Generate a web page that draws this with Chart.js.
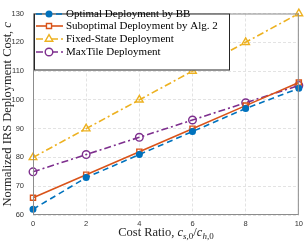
<!DOCTYPE html>
<html>
<head>
<meta charset="utf-8">
<script src="https://cdn.jsdelivr.net/npm/chart.js@4/dist/chart.umd.min.js"></script>
<style>
  html, body { margin: 0; padding: 0; background: #fff; }
  #wrap { width: 307px; height: 245px; position: relative; }
</style>
</head>
<body>
<div id="wrap"><canvas id="chart"></canvas></div>
<script>
const costRatio = [0, 2, 4, 6, 8, 10];
const optimalBB = [62, 73, 81, 89, 97, 104];
const suboptimalAlg2 = [66, 74, 82, 90, 98, 106];
const fixedState = [80, 90, 100, 110, 120, 130];
const maxTile = [75, 81, 87, 93, 99, 105];
const seriesNames = [
    'Optimal Deployment by BB',
    'Suboptimal Deployment by Alg. 2',
    'Fixed-State Deployment',
    'MaxTile Deployment',
];
const yTicks = [60, 70, 80, 90, 100, 110, 120, 130];
const xTicks = [0, 2, 4, 6, 8, 10];

const serif = '"Liberation Serif", "Times New Roman", serif';
const toPoints = (ys) => costRatio.map((x, i) => ({ x, y: ys[i] }));

const styles = [
    { color: '#0072BD', dash: [6, 4], point: 'circle', radius: 2.8, fill: '#0072BD' },
    { color: '#D95319', dash: [], point: 'rect', radius: 3.6, fill: 'rgba(0,0,0,0)' },
    { color: '#EDB120', dash: [7, 3, 2, 3], point: 'triangle', radius: 4.4, fill: 'rgba(0,0,0,0)' },
    { color: '#7E2F8E', dash: [7, 3, 2, 3], point: 'circle', radius: 3.8, fill: 'rgba(0,0,0,0)' },
];

const datasets = [optimalBB, suboptimalAlg2, fixedState, maxTile].map((ys, i) => ({
    label: seriesNames[i],
    data: toPoints(ys),
    borderColor: styles[i].color,
    borderWidth: 1.6,
    borderDash: styles[i].dash,
    pointStyle: styles[i].point,
    pointRadius: styles[i].radius,
    pointBorderWidth: 1.4,
    pointBorderColor: styles[i].color,
    pointBackgroundColor: styles[i].fill,
    tension: 0,
    clip: false,
}));

function drawMarker(ctx, style, x, y) {
    ctx.save();
    ctx.setLineDash([]);
    ctx.lineWidth = 1.4;
    ctx.strokeStyle = style.color;
    ctx.fillStyle = style.point === 'circle' && style.fill !== 'rgba(0,0,0,0)' ? style.fill : '#fff';
    const r = style.radius;
    ctx.beginPath();
    if (style.point === 'circle') {
        ctx.arc(x, y, r, 0, Math.PI * 2);
    } else if (style.point === 'rect') {
        const s = r * Math.SQRT1_2;
        ctx.rect(x - s, y - s, s * 2, s * 2);
    } else {
        ctx.moveTo(x, y - r);
        ctx.lineTo(x + r * 0.866, y + r * 0.5);
        ctx.lineTo(x - r * 0.866, y + r * 0.5);
        ctx.closePath();
    }
    ctx.fill();
    ctx.stroke();
    ctx.restore();
}

// draws text pieces one after another: [text, italic, sub]
function drawRich(ctx, parts, x, y, size) {
    let cx = x;
    parts.forEach(([text, italic, sub]) => {
        const fs = sub ? size * 0.72 : size;
        ctx.font = (italic ? 'italic ' : '') + fs + 'px ' + serif;
        ctx.fillText(text, cx, sub ? y + size * 0.25 : y);
        cx += ctx.measureText(text).width;
    });
    return cx - x;
}
function richWidth(ctx, parts, size) {
    let w = 0;
    parts.forEach(([text, italic, sub]) => {
        const fs = sub ? size * 0.72 : size;
        ctx.font = (italic ? 'italic ' : '') + fs + 'px ' + serif;
        w += ctx.measureText(text).width;
    });
    return w;
}

const boxAndLegend = {
    id: 'boxAndLegend',
    afterDraw(chart) {
        const { ctx, chartArea: a } = chart;
        ctx.save();
        // axes box
        ctx.strokeStyle = '#8c8c8c';
        ctx.lineWidth = 1;
        ctx.setLineDash([]);
        ctx.strokeRect(a.left + 0.5, a.top + 0.5, a.right - a.left - 1, a.bottom - a.top - 1);

        // legend
        const lx = a.left + 1, ly = a.top, lw = 196, lh = 57;
        ctx.fillStyle = '#fff';
        ctx.fillRect(lx, ly, lw, lh);
        ctx.strokeStyle = '#262626';
        ctx.strokeRect(lx + 0.5, ly + 0.5, lw - 1, lh - 1);
        const rows = [14, 26, 39, 52];
        styles.forEach((s, i) => {
            const y = rows[i];
            ctx.strokeStyle = s.color;
            ctx.lineWidth = 1.6;
            ctx.setLineDash(s.dash);
            ctx.beginPath();
            ctx.moveTo(lx + 2, y);
            ctx.lineTo(lx + 29, y);
            ctx.stroke();
            drawMarker(ctx, s, lx + 15, y);
            ctx.fillStyle = '#000';
            ctx.font = '11px ' + serif;
            ctx.textBaseline = 'middle';
            ctx.textAlign = 'left';
            ctx.fillText(seriesNames[i], lx + 32, y + 0.5);
        });

        // axis titles
        ctx.fillStyle = '#262626';
        ctx.textBaseline = 'alphabetic';
        const xParts = [['Cost Ratio, ', false, false], ['c', true, false], ['s', true, true], [',0', false, true],
            ['/', false, false], ['c', true, false], ['h', true, true], [',0', false, true]];
        const xw = richWidth(ctx, xParts, 12.5);
        drawRich(ctx, xParts, (a.left + a.right) / 2 - xw / 2, 236, 12.5);

        const yParts = [['Normalized IRS Deployment Cost, ', false, false], ['c', true, false]];
        const yw = richWidth(ctx, yParts, 12.5);
        ctx.translate(11, (a.top + a.bottom) / 2);
        ctx.rotate(-Math.PI / 2);
        drawRich(ctx, yParts, -yw / 2, 0, 12.5);
        ctx.restore();
    },
};

new Chart(document.getElementById('chart').getContext('2d'), {
    type: 'line',
    data: { datasets },
    options: {
        responsive: true,
        maintainAspectRatio: false,
        animation: false,
        layout: { padding: { top: 5, right: 5, left: 0, bottom: 0 } },
        plugins: { legend: { display: false }, tooltip: { enabled: false } },
        scales: {
            x: {
                type: 'linear',
                min: 0,
                max: 10,
                afterBuildTicks: (scale) => { scale.ticks = xTicks.map((v) => ({ value: v })); },
                afterFit: (scale) => { scale.height = 30; },
                ticks: { color: '#333', font: { family: '"Liberation Sans", Arial, sans-serif', size: 7.5 }, padding: 4 },
                grid: { color: '#e3e3e3', drawTicks: false },
                border: { display: false, dash: [3, 2] },
            },
            y: {
                min: 60,
                max: 130,
                afterBuildTicks: (scale) => { scale.ticks = yTicks.map((v) => ({ value: v })); },
                afterFit: (scale) => { scale.width = 33; },
                ticks: { color: '#333', font: { family: '"Liberation Sans", Arial, sans-serif', size: 7.5 }, padding: 9 },
                grid: { color: '#e3e3e3', drawTicks: false },
                border: { display: false, dash: [3, 2] },
            },
        },
    },
    plugins: [boxAndLegend],
});
</script>
</body>
</html>
